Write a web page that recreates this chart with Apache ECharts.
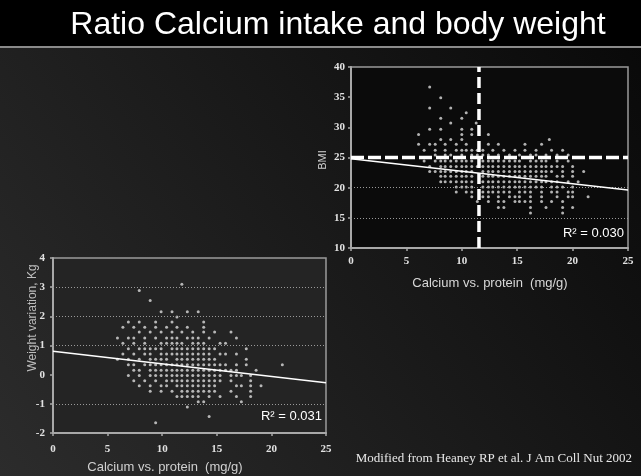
<!DOCTYPE html>
<html>
<head>
<meta charset="utf-8">
<script src="https://cdn.jsdelivr.net/npm/echarts@6/dist/echarts.min.js"></script>
<style>html,body{margin:0;padding:0;background:#000;}#c{width:641px;height:476px;}</style>
</head>
<body>
<div id="c"></div>
<script>
// ---------- Top chart: BMI vs Calcium/protein ----------
const topRowY = [36.7, 34.9, 33.2, 32.4, 31.5, 30.7, 29.7, 28.8, 28.0, 27.2, 26.2, 25.4, 24.4, 23.5, 22.7, 21.9, 21.0, 20.1, 19.3, 18.5, 17.7, 16.7, 15.8];
const topRowX = [
  [7.1],
  [8.1],
  [7.1, 9.0],
  [10.4],
  [8.1, 10.0],
  [9.0, 11.3],
  [7.1, 8.1, 10.0, 10.9],
  [6.1, 10.0, 10.9, 12.4],
  [8.1, 9.0, 10.0, 17.9],
  [6.1, 7.1, 7.6, 8.5, 9.5, 10.4, 12.4, 13.3, 15.7, 17.2],
  [6.6, 7.6, 8.5, 9.5, 10.0, 10.4, 10.9, 11.4, 11.9, 12.8, 13.8, 14.8, 15.7, 16.7, 18.1, 19.1],
  [7.6, 8.5, 9.0, 10.0, 10.9, 11.4, 11.9, 12.4, 13.3, 14.3, 15.2, 16.2, 16.7, 17.6, 18.6, 19.6],
  [6.6, 7.6, 8.1, 8.5, 9.0, 9.5, 10.0, 10.4, 10.9, 11.9, 12.4, 12.8, 13.3, 13.8, 14.3, 14.8, 15.2, 16.2, 16.7, 17.2, 17.6, 18.6, 19.6],
  [7.1, 8.1, 8.5, 9.0, 9.5, 10.0, 10.4, 10.9, 11.4, 11.9, 12.4, 12.8, 13.3, 13.8, 14.3, 14.8, 15.2, 15.7, 16.2, 16.7, 17.2, 17.6, 18.1, 18.6, 19.1, 20.0],
  [7.1, 7.6, 8.1, 8.5, 9.0, 9.5, 10.0, 10.4, 10.9, 11.9, 12.4, 12.8, 13.3, 13.8, 14.3, 14.8, 15.2, 15.7, 16.2, 16.7, 17.2, 17.6, 18.1, 19.1, 20.0, 21.0],
  [8.1, 8.5, 9.0, 9.5, 10.0, 10.4, 10.9, 11.9, 12.4, 12.8, 13.3, 13.8, 14.3, 14.8, 15.2, 15.7, 16.2, 16.7, 17.2, 17.6, 18.6, 19.1, 20.0],
  [8.1, 8.5, 9.0, 9.5, 10.0, 10.4, 10.9, 11.9, 12.4, 12.8, 13.3, 13.8, 14.3, 14.8, 15.2, 15.7, 16.2, 16.7, 17.2, 17.6, 18.1, 18.6, 19.6, 20.5],
  [9.5, 10.0, 10.4, 10.9, 11.9, 12.4, 12.8, 13.3, 13.8, 14.3, 14.8, 15.2, 15.7, 16.2, 16.7, 17.2, 18.1, 18.6, 19.1, 20.0],
  [9.5, 10.4, 10.9, 11.9, 12.4, 12.8, 13.3, 13.8, 14.3, 15.2, 15.7, 16.2, 17.2, 18.1, 18.6, 19.6, 20.0],
  [10.9, 11.9, 12.4, 13.3, 14.3, 14.8, 15.2, 16.2, 17.2, 18.6, 19.6, 20.0, 21.4],
  [11.4, 12.4, 13.3, 13.8, 14.8, 15.2, 15.7, 16.2, 17.2, 18.1, 19.1],
  [13.3, 13.8, 16.2, 17.6, 19.1, 20.0],
  [16.2, 19.1]
];
const topFit = [[0, 24.8], [25, 19.6]];
const topCutX = 11.55;
const topCutBMI = 25;
const topGridLines = [15, 20];
const topXTicks = [0, 5, 10, 15, 20, 25];
const topYTicks = [10, 15, 20, 25, 30, 35, 40];

// ---------- Bottom chart: weight variation vs Calcium/protein ----------
const botRowY = [3.10, 2.89, 2.54, 2.16, 1.98, 1.81, 1.63, 1.46, 1.26, 1.08, 0.89, 0.71, 0.53, 0.34, 0.15, -0.03, -0.21, -0.38, -0.57, -0.75, -0.93, -1.11, -1.43, -1.65];
const botRowX = [
  [11.8],
  [7.9],
  [8.9],
  [9.9, 10.9, 12.3, 13.3],
  [11.35],
  [6.9, 7.9, 9.4, 10.9, 13.8],
  [6.4, 7.4, 8.4, 9.4, 10.4, 11.35, 12.3, 13.8],
  [7.9, 8.9, 9.9, 10.9, 11.8, 12.8, 13.8, 14.8, 16.3],
  [5.9, 6.9, 7.4, 8.4, 9.4, 10.4, 10.9, 11.35, 12.3, 12.8, 13.3, 14.3, 16.8],
  [6.4, 7.4, 8.4, 9.9, 10.4, 10.9, 11.35, 11.8, 12.8, 13.3, 13.8, 15.3, 15.8],
  [6.9, 7.9, 8.4, 8.9, 9.4, 9.9, 10.9, 11.35, 11.8, 12.3, 12.8, 13.3, 13.8, 14.3, 14.8, 17.7],
  [6.4, 7.4, 8.4, 8.9, 9.9, 10.4, 10.9, 11.35, 11.8, 12.3, 12.8, 13.3, 13.8, 14.3, 15.3, 15.8, 16.8],
  [5.9, 6.9, 7.9, 8.9, 9.4, 9.9, 10.4, 11.35, 11.8, 12.3, 12.8, 13.3, 13.8, 14.3, 14.8, 17.7],
  [6.9, 7.4, 8.4, 8.9, 9.4, 9.9, 10.4, 10.9, 11.35, 11.8, 12.3, 12.8, 13.3, 13.8, 14.3, 14.8, 15.3, 15.8, 16.8, 17.7, 21.0],
  [7.4, 7.9, 8.9, 9.4, 9.9, 10.4, 10.9, 11.35, 11.8, 12.3, 12.8, 13.3, 13.8, 14.3, 14.8, 15.3, 15.8, 16.3, 16.8, 18.6],
  [6.9, 7.9, 8.9, 9.4, 9.9, 10.4, 10.9, 11.35, 11.8, 12.3, 12.8, 13.3, 13.8, 14.3, 14.8, 15.3, 16.3, 16.8, 17.25, 18.1],
  [7.4, 8.4, 9.4, 10.4, 10.9, 11.35, 11.8, 12.3, 12.8, 13.3, 13.8, 14.3, 14.8, 15.3, 16.3, 18.1],
  [7.9, 8.9, 9.9, 10.4, 11.35, 11.8, 12.3, 12.8, 13.3, 13.8, 14.3, 14.8, 16.8, 17.25, 18.1, 19.05],
  [8.9, 9.9, 10.9, 11.8, 12.3, 12.8, 13.3, 13.8, 14.3, 14.8, 16.3, 18.1],
  [11.35, 11.8, 12.3, 12.8, 13.3, 14.3, 15.3, 16.8, 18.1],
  [13.3, 13.8, 17.25],
  [12.3],
  [14.3],
  [9.4]
];
const botFit = [[0, 0.8], [25, -0.28]];
const botGridLines = [3, 2, 1, -1];
const botXTicks = [0, 5, 10, 15, 20, 25];
const botYTicks = [-2, -1, 0, 1, 2, 3, 4];

// ---------- Texts ----------
const titleText = 'Ratio Calcium intake and body weight';
const xName = 'Calcium vs. protein  (mg/g)';
const topYName = 'BMI';
const botYName = 'Weight variation, Kg';
const topR2 = 'R² = 0.030';
const botR2 = 'R² = 0.031';
const sourceText = 'Modified from Heaney RP et al. J Am Coll Nut 2002';

function rowsToPoints(ys, xs) {
  const out = [];
  ys.forEach((y, i) => xs[i].forEach(x => out.push([x, y])));
  return out;
}
const topPoints = rowsToPoints(topRowY, topRowX);
const botPoints = rowsToPoints(botRowY, botRowX);

const labelStyle = { color: '#e2e2e2', fontFamily: 'Liberation Serif', fontWeight: 'bold', fontSize: 11 };
const axisLineStyle = { lineStyle: { color: '#a8a8a8', width: 2 } };
const tickStyle = { show: true, length: 3, lineStyle: { color: '#a8a8a8', width: 1.5 } };

function mkX(grid, ticks, margin) {
  return { type: 'value', gridIndex: grid, min: ticks[0], max: ticks[ticks.length - 1], interval: 5,
    axisLine: { show: true, onZero: false, ...axisLineStyle }, axisTick: tickStyle,
    axisLabel: { ...labelStyle, margin: margin }, splitLine: { show: false } };
}
function mkY(grid, ticks, margin) {
  return { type: 'value', gridIndex: grid, min: ticks[0], max: ticks[ticks.length - 1], interval: ticks[1] - ticks[0],
    axisLine: { show: true, onZero: false, ...axisLineStyle }, axisTick: tickStyle,
    axisLabel: { ...labelStyle, margin: margin }, splitLine: { show: false } };
}

const chart = echarts.init(document.getElementById('c'), null, { renderer: 'canvas' });
const dotted = { color: '#9a9a9a', type: [1, 2], width: 1 };

chart.setOption({
  animation: false,
  grid: [
    { left: 351, top: 67, width: 277, height: 181, show: true, backgroundColor: '#0b0b0b', borderColor: '#9a9a9a', borderWidth: 1.5 },
    { left: 53, top: 258, width: 273, height: 175, show: true, backgroundColor: '#242424', borderColor: '#9a9a9a', borderWidth: 1.5 }
  ],
  xAxis: [mkX(0, topXTicks, 8), mkX(1, botXTicks, 11)],
  yAxis: [mkY(0, topYTicks, 6), mkY(1, botYTicks, 8)],
  series: [
    { type: 'line', xAxisIndex: 0, yAxisIndex: 0, data: [], silent: true,
      markLine: { silent: true, symbol: 'none', label: { show: false }, lineStyle: dotted,
        data: topGridLines.map(v => ({ yAxis: v })) } },
    { type: 'line', xAxisIndex: 1, yAxisIndex: 1, data: [], silent: true,
      markLine: { silent: true, symbol: 'none', label: { show: false }, lineStyle: dotted,
        data: botGridLines.map(v => ({ yAxis: v })) } },
    { type: 'scatter', xAxisIndex: 0, yAxisIndex: 0, data: topPoints, symbol: 'circle', symbolSize: 3,
      itemStyle: { color: '#dcdcdc' }, z: 3 },
    { type: 'line', xAxisIndex: 0, yAxisIndex: 0, data: [[topXTicks[0], topCutBMI], [topXTicks[5], topCutBMI]], symbol: 'none',
      lineStyle: { color: '#ffffff', width: 3.5, type: [13, 4] }, z: 4 },
    { type: 'line', xAxisIndex: 0, yAxisIndex: 0, data: [[topCutX, topYTicks[0]], [topCutX, topYTicks[6]]], symbol: 'none',
      lineStyle: { color: '#ffffff', width: 3.5, type: [11, 5] }, z: 4 },
    { type: 'line', xAxisIndex: 0, yAxisIndex: 0, data: topFit, symbol: 'none',
      lineStyle: { color: '#ffffff', width: 1.5 }, z: 5 },
    { type: 'scatter', xAxisIndex: 1, yAxisIndex: 1, data: botPoints, symbol: 'circle', symbolSize: 3,
      itemStyle: { color: '#dcdcdc' }, z: 3 },
    { type: 'line', xAxisIndex: 1, yAxisIndex: 1, data: botFit, symbol: 'none',
      lineStyle: { color: '#ffffff', width: 1.5 }, z: 5 }
  ],
  graphic: [
    { type: 'rect', z: -20, silent: true, shape: { x: 0, y: 0, width: 641, height: 476 },
      style: { fill: new echarts.graphic.LinearGradient(1, 0, 0, 1, [
        { offset: 0, color: '#080808' }, { offset: 0.5, color: '#1a1a1a' }, { offset: 1, color: '#2c2c2c' }]) } },
    { type: 'rect', z: -10, silent: true, shape: { x: 0, y: 0, width: 641, height: 46 }, style: { fill: '#000' } },
    { type: 'rect', z: -10, silent: true, shape: { x: 0, y: 46, width: 641, height: 2 }, style: { fill: '#8a8a8a' } },
    { type: 'text', z: 50, x: 338, y: 25, silent: true,
      style: { text: titleText, fill: '#ffffff', font: '32px "Liberation Sans"', align: 'center', verticalAlign: 'middle' } },
    { type: 'text', z: 50, x: 490, y: 283, silent: true,
      style: { text: xName, fill: '#d8d8d8', font: '13px "Liberation Sans"', align: 'center', verticalAlign: 'middle' } },
    { type: 'text', z: 50, x: 165, y: 467, silent: true,
      style: { text: xName, fill: '#d0d0d0', font: '13px "Liberation Sans"', align: 'center', verticalAlign: 'middle' } },
    { type: 'text', z: 50, x: 323, y: 160, rotation: Math.PI / 2, silent: true,
      style: { text: topYName, fill: '#cfcfcf', font: '11px "Liberation Sans"', align: 'center', verticalAlign: 'middle' } },
    { type: 'text', z: 50, x: 33, y: 318, rotation: Math.PI / 2, silent: true,
      style: { text: botYName, fill: '#bdbdbd', font: '12px "Liberation Sans"', align: 'center', verticalAlign: 'middle' } },
    { type: 'text', z: 50, x: 624, y: 233, silent: true,
      style: { text: topR2, fill: '#ffffff', font: '13px "Liberation Sans"', align: 'right', verticalAlign: 'middle' } },
    { type: 'text', z: 50, x: 322, y: 416, silent: true,
      style: { text: botR2, fill: '#ffffff', font: '13px "Liberation Sans"', align: 'right', verticalAlign: 'middle' } },
    { type: 'text', z: 50, x: 632, y: 459, silent: true,
      style: { text: sourceText, fill: '#e8e8e8', font: '13px "Liberation Serif"', align: 'right', verticalAlign: 'middle' } }
  ]
});
</script>
</body>
</html>
